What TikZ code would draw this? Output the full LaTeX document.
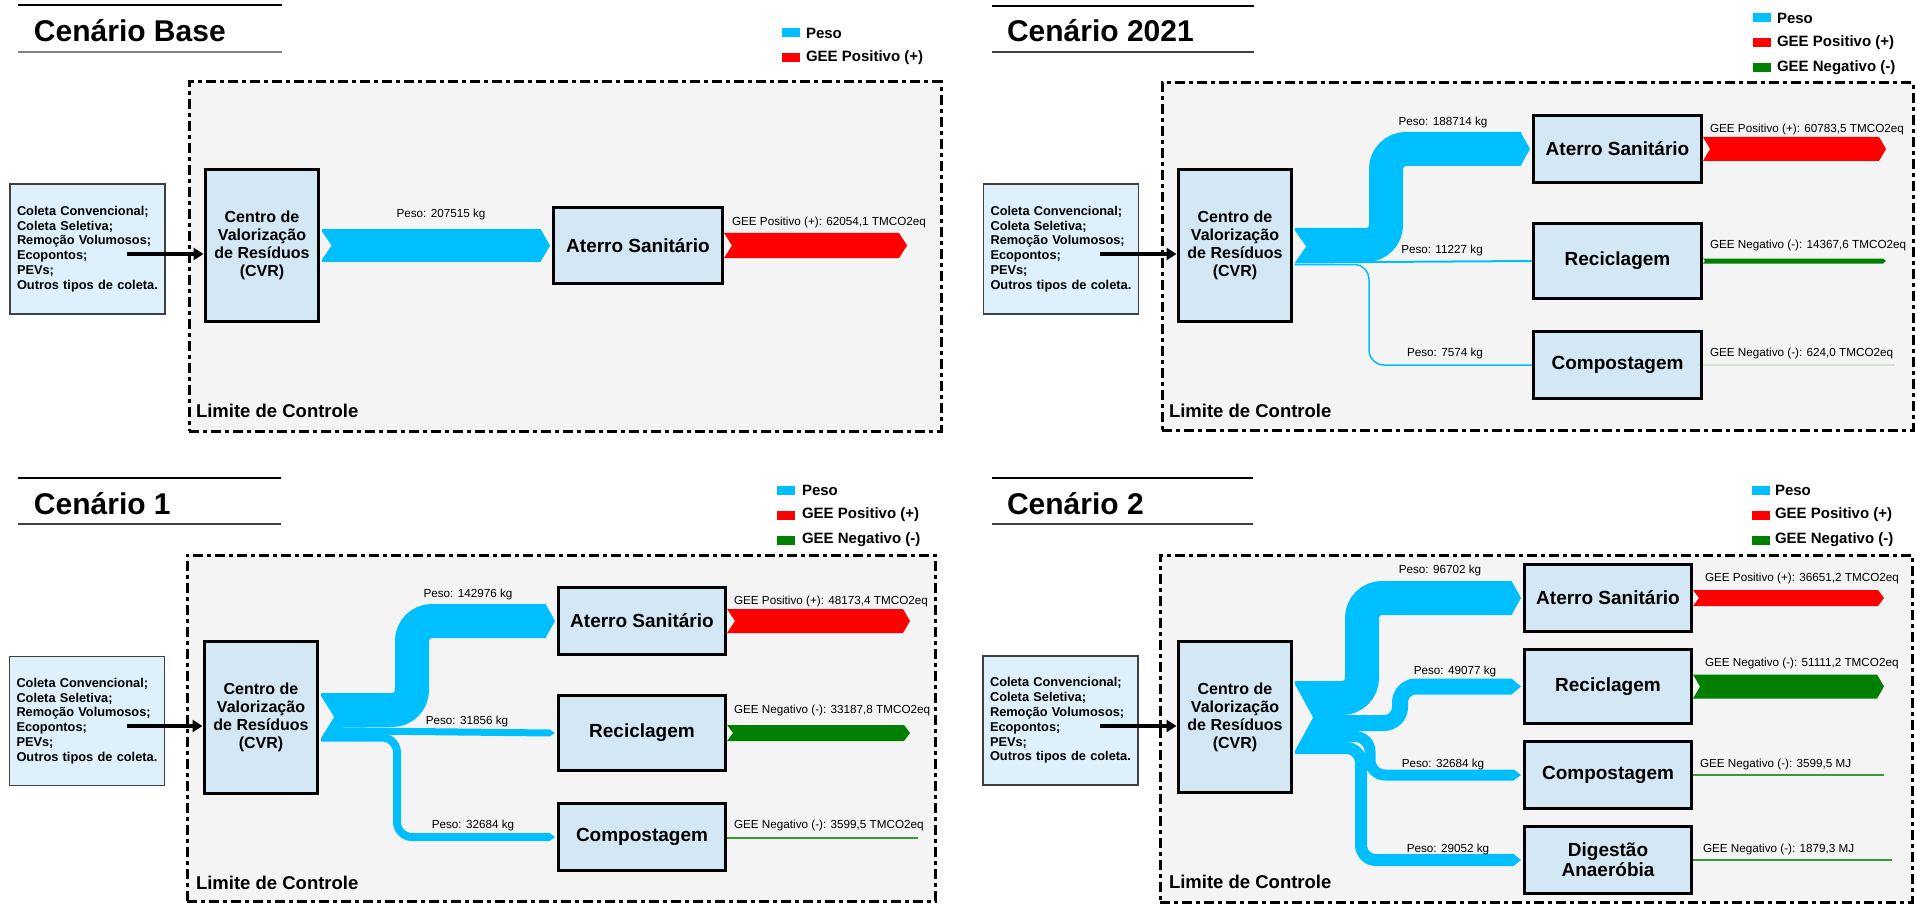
\documentclass[tikz,border=0pt]{standalone}
\usepackage{fontspec}
\setmainfont{Liberation Sans}
\usetikzlibrary{arrows.meta,calc}
\definecolor{peso}{HTML}{00BFFF}
\definecolor{geepos}{HTML}{FF0000}
\definecolor{geeneg}{HTML}{007F00}
\definecolor{boxblue}{HTML}{D3E7F5}
\definecolor{srcblue}{HTML}{DDF0FC}
\definecolor{srcborder}{HTML}{404040}
\definecolor{bggray}{HTML}{F4F4F4}
\definecolor{palegreen}{HTML}{CFE5CF}
\definecolor{linegreen}{HTML}{3A9A3A}
\tikzset{
  every node/.style={inner sep=0pt, outer sep=0pt},
  limite/.style={draw=black, line width=3pt, dash pattern=on 10pt off 4pt on 4pt off 4pt, fill=bggray, anchor=north west},
  destbox/.style={draw=black, line width=3pt, fill=boxblue, align=center, font=\bfseries\fontsize{19}{20}\selectfont},
  cvrbox/.style={draw=black, line width=3pt, fill=boxblue, align=center, minimum width=113pt, font=\bfseries\fontsize{16}{18}\selectfont},
  srcbox/.style={draw=srcborder, line width=1.5pt, fill=srcblue, align=left, text width=141pt, inner xsep=7pt, font=\bfseries\fontsize{12.8}{14.8}\selectfont},
  titulo/.style={anchor=base west, font=\bfseries\fontsize{30}{34}\selectfont},
  legsq/.style={minimum width=18pt, minimum height=9pt},
  legtxt/.style={anchor=west, font=\bfseries\fontsize{15}{17}\selectfont},
  pesotxt/.style={font=\fontsize{11.7}{13}\selectfont},
  geetxt/.style={anchor=west, font=\fontsize{11.7}{13}\selectfont},
  limtxt/.style={anchor=west, font=\bfseries\fontsize{18.5}{21}\selectfont},
  entrada/.style={line width=4pt, shorten >=2pt, -{Triangle[length=10pt,width=12pt]}},
  pesoband/.style={draw=peso, line cap=butt},
  tline/.style={draw=black, line width=1.2pt},
  bline/.style={draw=srcborder, line width=1.6pt},
}
% #1 start coordinate, #2 bend coordinate, #3 target node, #4 width, #5 radius, #6 tip length
\newcommand{\fluxo}[6]{%
  \draw[pesoband, line width=#4pt, rounded corners=#5pt] (#1) -- (#1 -| #2) -- (#3.west -| #2) -- ($(#3.west)+(-3.5-#6,0)$);
  \fill[peso] ($(#3.west)+(-4-#6,-#4/2)$) -- ($(#3.west)+(-3.5,0)$) -- ($(#3.west)+(-4-#6,#4/2)$) -- cycle;}
% #1 source node, #2 colour, #3 thickness, #4 length from east, #5 notch, #6 tip
\newcommand{\geeseta}[6]{%
  \fill[#2] ($(#1.east)+(1.5,-#3/2)$) -- ($(#1.east)+(#4-#6,-#3/2)$) -- ($(#1.east)+(#4,0)$) -- ($(#1.east)+(#4-#6,#3/2)$) -- ($(#1.east)+(1.5,#3/2)$) -- ($(#1.east)+(1.5+#5,0)$) -- cycle;}
\begin{document}
\begin{tikzpicture}[x=1pt, y=-1pt]
\useasboundingbox (0,0) rectangle (1917,904);
\fill[white] (0,0) rectangle (1917,904);

% ================= Cenario Base =================
\draw[tline] (18,5) -- (282,5);
\draw[draw=gray, line width=2pt] (18,52) -- (282,52);
\node[titulo] (t0) at (34,42) {Cenário Base};
\node[legsq, fill=peso] (l0a) at (790.5,33) {};
\node[legtxt] (l0at) at (806,33) {Peso};
\node[legsq, fill=geepos] (l0b) at (790.5,58) {};
\node[legtxt] (l0bt) at (806,58) {GEE Positivo (+)};
\node[limite, minimum width=752pt, minimum height=349pt] (lim0) at (189,82) {};
\node[limtxt] (lt0) at (196,411) {Limite de Controle};
\node[srcbox, minimum height=130pt] (src0) at (87.5,249) {Coleta Convencional;\\Coleta Seletiva;\\Remoção Volumosos;\\Ecopontos;\\PEVs;\\Outros tipos de coleta.};
\node[cvrbox, minimum height=152pt] (cvr0) at (262,245.5) {Centro de\\Valorização\\de Resíduos\\(CVR)};
\node[destbox, minimum width=169pt, minimum height=76pt] (at0) at (638,245.5) {Aterro Sanitário};
\coordinate (e0) at (127,254);
\draw[entrada] (e0) -- (e0 -| cvr0.west);
\coordinate (s0) at ($(cvr0.east)+(3,0)$);
\draw[pesoband, line width=33pt] (s0) -- ($(at0.west)+(-12.5,0)$);
\fill[peso] ($(at0.west)+(-13,-16.5)$) -- ($(at0.west)+(-3.5,0)$) -- ($(at0.west)+(-13,16.5)$) -- cycle;
\fill[bggray] ($(cvr0.east)+(1.5,-16.5)$) -- ($(cvr0.east)+(13,0)$) -- ($(cvr0.east)+(1.5,16.5)$) -- cycle;
\node[pesotxt] (p0) at (441,214) {Peso: 207515 kg};
\geeseta{at0}{geepos}{25}{184.5}{8}{8}
\node[geetxt] (g0) at (732,222) {GEE Positivo (+): 62054,1 TMCO2eq};

% ================= Cenario 2021 =================
\draw[tline] (992,6) -- (1254,6);
\draw[bline] (992,52) -- (1254,52);
\node[titulo] (t1) at (1007,42) {Cenário 2021};
\node[legsq, fill=peso] (l1a) at (1762,18) {};
\node[legtxt] (l1at) at (1777,18) {Peso};
\node[legsq, fill=geepos] (l1b) at (1762,43) {};
\node[legtxt] (l1bt) at (1777,43) {GEE Positivo (+)};
\node[legsq, fill=geeneg] (l1c) at (1762,68) {};
\node[legtxt] (l1ct) at (1777,68) {GEE Negativo (-)};
\node[limite, minimum width=751pt, minimum height=347pt] (lim1) at (1162,83) {};
\node[limtxt] (lt1) at (1169,411) {Limite de Controle};
\node[srcbox, minimum height=130pt] (src1) at (1061,249) {Coleta Convencional;\\Coleta Seletiva;\\Remoção Volumosos;\\Ecopontos;\\PEVs;\\Outros tipos de coleta.};
\node[cvrbox, minimum height=152pt] (cvr1) at (1235,245.5) {Centro de\\Valorização\\de Resíduos\\(CVR)};
\node[destbox, minimum width=168pt, minimum height=67pt] (at1) at (1617.5,149) {Aterro Sanitário};
\node[destbox, minimum width=168pt, minimum height=75pt] (rc1) at (1617.5,261) {Reciclagem};
\node[destbox, minimum width=168pt, minimum height=67pt] (cp1) at (1617.5,365) {Compostagem};
\coordinate (e1) at (1100,254);
\draw[entrada] (e1) -- (e1 -| cvr1.west);
\coordinate (s1a) at ($(cvr1.east)+(3,-0.5)$);
\coordinate (v1a) at (1386,0);
\fluxo{s1a}{v1a}{at1}{34}{20}{9}
\draw[pesoband, line width=2pt] ($(cvr1.east)+(3,17)$) -- ($(rc1.west)+(-1.5,0)$);
\coordinate (s1c) at ($(cvr1.east)+(3,19)$);
\coordinate (v1c) at (1369,0);
\draw[pesoband, line width=1.5pt, rounded corners=15pt] (s1c) -- (s1c -| v1c) -- (cp1.west -| v1c) -- ($(cp1.west)+(-1.5,0)$);
\fill[bggray] ($(cvr1.east)+(1.5,-17.5)$) -- ($(cvr1.east)+(14.5,1)$) -- ($(cvr1.east)+(1.5,19.5)$) -- cycle;
\node[pesotxt] (p1a) at (1443,122) {Peso: 188714 kg};
\node[pesotxt] (p1b) at (1442,250) {Peso: 11227 kg};
\node[pesotxt] (p1c) at (1445,353) {Peso: 7574 kg};
\geeseta{at1}{geepos}{24}{184.5}{7}{7}
\geeseta{rc1}{geeneg}{5}{184.5}{2}{3}
\draw[palegreen, line width=2pt] ($(cp1.east)+(1.5,0)$) -- ($(cp1.east)+(193.5,0)$);
\node[geetxt] (g1a) at (1710,129) {GEE Positivo (+): 60783,5 TMCO2eq};
\node[geetxt] (g1b) at (1710,245) {GEE Negativo (-): 14367,6 TMCO2eq};
\node[geetxt] (g1c) at (1710,353) {GEE Negativo (-): 624,0 TMCO2eq};

% ================= Cenario 1 =================
\draw[tline] (18,478) -- (281,478);
\draw[bline] (18,524) -- (281,524);
\node[titulo] (t2) at (34,514) {Cenário 1};
\node[legsq, fill=peso] (l2a) at (785.5,490) {};
\node[legtxt] (l2at) at (802,490) {Peso};
\node[legsq, fill=geepos] (l2b) at (785.5,515) {};
\node[legtxt] (l2bt) at (802,515) {GEE Positivo (+)};
\node[legsq, fill=geeneg] (l2c) at (785.5,540) {};
\node[legtxt] (l2ct) at (802,540) {GEE Negativo (-)};
\node[limite, minimum width=748pt, minimum height=346pt] (lim2) at (187,555) {};
\node[limtxt] (lt2) at (196,883) {Limite de Controle};
\node[srcbox, minimum height=129pt] (src2) at (87,721) {Coleta Convencional;\\Coleta Seletiva;\\Remoção Volumosos;\\Ecopontos;\\PEVs;\\Outros tipos de coleta.};
\node[cvrbox, minimum height=152pt] (cvr2) at (261,717.5) {Centro de\\Valorização\\de Resíduos\\(CVR)};
\node[destbox, minimum width=167pt, minimum height=67pt] (at2) at (642,621) {Aterro Sanitário};
\node[destbox, minimum width=167pt, minimum height=75pt] (rc2) at (642,733) {Reciclagem};
\node[destbox, minimum width=167pt, minimum height=67pt] (cp2) at (642,837) {Compostagem};
\coordinate (e2) at (127,726);
\draw[entrada] (e2) -- (e2 -| cvr2.west);
\coordinate (s2a) at ($(cvr2.east)+(3.5,-7.5)$);
\coordinate (v2a) at (412,0);
\fluxo{s2a}{v2a}{at2}{34}{20}{9}
\draw[pesoband, line width=7pt] ($(cvr2.east)+(3.5,13)$) -- ($(rc2.west)+(-8.5,0)$);
\fill[peso] ($(rc2.west)+(-9,-3.5)$) -- ($(rc2.west)+(-3.5,0)$) -- ($(rc2.west)+(-9,3.5)$) -- cycle;
\coordinate (s2c) at ($(cvr2.east)+(3.5,20)$);
\coordinate (v2c) at (397,0);
\fluxo{s2c}{v2c}{cp2}{8}{15}{5}
\fill[bggray] ($(cvr2.east)+(1.5,-24.5)$) -- ($(cvr2.east)+(16.5,-0.5)$) -- ($(cvr2.east)+(1.5,23.5)$) -- cycle;
\node[pesotxt] (p2a) at (468,594) {Peso: 142976 kg};
\node[pesotxt] (p2b) at (467,721) {Peso: 31856 kg};
\node[pesotxt] (p2c) at (473,825) {Peso: 32684 kg};
\geeseta{at2}{geepos}{24}{184.5}{8}{7}
\geeseta{rc2}{geeneg}{16}{184.5}{6}{6}
\draw[linegreen, line width=1.5pt] ($(cp2.east)+(1.5,1)$) -- ($(cp2.east)+(192.5,1)$);
\node[geetxt] (g2a) at (734,601) {GEE Positivo (+): 48173,4 TMCO2eq};
\node[geetxt] (g2b) at (734,710) {GEE Negativo (-): 33187,8 TMCO2eq};
\node[geetxt] (g2c) at (734,825) {GEE Negativo (-): 3599,5 TMCO2eq};

% ================= Cenario 2 =================
\draw[tline] (992,478) -- (1253,478);
\draw[bline] (992,524) -- (1253,524);
\node[titulo] (t3) at (1007,514) {Cenário 2};
\node[legsq, fill=peso] (l3a) at (1760.5,490) {};
\node[legtxt] (l3at) at (1775,490) {Peso};
\node[legsq, fill=geepos] (l3b) at (1760.5,515) {};
\node[legtxt] (l3bt) at (1775,515) {GEE Positivo (+)};
\node[legsq, fill=geeneg] (l3c) at (1760.5,540) {};
\node[legtxt] (l3ct) at (1775,540) {GEE Negativo (-)};
\node[limite, minimum width=752pt, minimum height=347pt] (lim3) at (1160,555) {};
\node[limtxt] (lt3) at (1169,882) {Limite de Controle};
\node[srcbox, minimum height=129pt] (src3) at (1060.5,720.5) {Coleta Convencional;\\Coleta Seletiva;\\Remoção Volumosos;\\Ecopontos;\\PEVs;\\Outros tipos de coleta.};
\node[cvrbox, minimum height=151pt] (cvr3) at (1235,717) {Centro de\\Valorização\\de Resíduos\\(CVR)};
\node[destbox, minimum width=167pt, minimum height=67pt] (at3) at (1608,598) {Aterro Sanitário};
\node[destbox, minimum width=167pt, minimum height=74pt] (rc3) at (1608,686.5) {Reciclagem};
\node[destbox, minimum width=167pt, minimum height=67pt] (cp3) at (1608,775) {Compostagem};
\node[destbox, minimum width=167pt, minimum height=67pt] (dg3) at (1608,860) {Digestão\\Anaeróbia};
\coordinate (e3) at (1100,726);
\draw[entrada] (e3) -- (e3 -| cvr3.west);
\coordinate (s3a) at ($(cvr3.east)+(3.5,-19)$);
\coordinate (v3a) at (1362,0);
\fluxo{s3a}{v3a}{at3}{34}{20}{9}
\coordinate (s3b) at ($(cvr3.east)+(3.5,6)$);
\coordinate (v3b) at (1400,0);
\fluxo{s3b}{v3b}{rc3}{16}{16}{9}
\coordinate (s3c) at ($(cvr3.east)+(3.5,19.5)$);
\coordinate (v3c) at (1370,0);
\fluxo{s3c}{v3c}{cp3}{11}{15}{7}
\coordinate (s3d) at ($(cvr3.east)+(3.5,31)$);
\coordinate (v3d) at (1361,0);
\fluxo{s3d}{v3d}{dg3}{12}{15}{7}
\fill[bggray] ($(cvr3.east)+(1.5,-36)$) -- ($(cvr3.east)+(21.5,0.5)$) -- ($(cvr3.east)+(1.5,37)$) -- cycle;
\node[pesotxt] (p3a) at (1440,570) {Peso: 96702 kg};
\node[pesotxt] (p3b) at (1455,671) {Peso: 49077 kg};
\node[pesotxt] (p3c) at (1443,764) {Peso: 32684 kg};
\node[pesotxt] (p3d) at (1448,849) {Peso: 29052 kg};
\geeseta{at3}{geepos}{16}{192.5}{6}{6}
\geeseta{rc3}{geeneg}{24}{192.5}{7}{7}
\draw[linegreen, line width=2pt] ($(cp3.east)+(1.5,0)$) -- ($(cp3.east)+(192.5,0)$);
\draw[linegreen, line width=2pt] ($(dg3.east)+(1.5,0)$) -- ($(dg3.east)+(200.5,0)$);
\node[geetxt] (g3a) at (1705,578) {GEE Positivo (+): 36651,2 TMCO2eq};
\node[geetxt] (g3b) at (1705,663) {GEE Negativo (-): 51111,2 TMCO2eq};
\node[geetxt] (g3c) at (1700,764) {GEE Negativo (-): 3599,5 MJ};
\node[geetxt] (g3d) at (1703,849) {GEE Negativo (-): 1879,3 MJ};
\end{tikzpicture}
\end{document}
